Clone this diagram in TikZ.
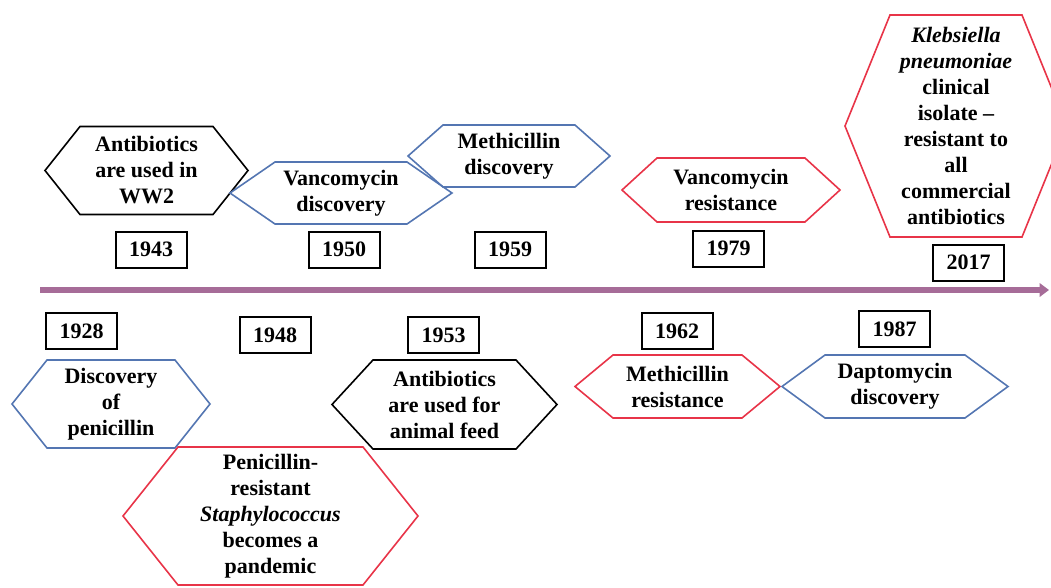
\documentclass[tikz,border=0pt]{standalone}
\usepackage{fontspec}
\setmainfont{Liberation Serif}
\usetikzlibrary{calc,arrows.meta}
\definecolor{hexblue}{RGB}{84,118,178}
\definecolor{hexred}{RGB}{232,52,72}
\definecolor{tlmauve}{RGB}{166,108,152}
\tikzset{
  hextext/.style={inner sep=0pt, align=center, font=\fontsize{16.5}{19.5}\selectfont\bfseries},
  hexline/.style={line width=1.2pt, line join=miter},
  yearbox/.style={draw=black, line width=1.5pt, minimum width=53.25pt, minimum height=27pt, inner sep=0pt, font=\fontsize{16.5}{19.5}\selectfont\bfseries},
  timeline/.style={draw=tlmauve, line width=4.8pt, -{Triangle[length=7pt,width=10pt]}}
}
\newcommand{\hexa}[8]{%
  \node[hextext] (#1) at (#2,#3) {#8};
  \draw[hexline,#7] ($(#1)+(-#4,0)$) -- ($(#1)+(-#4+#6,-#5)$) -- ($(#1)+(#4-#6,-#5)$) -- ($(#1)+(#4,0)$) -- ($(#1)+(#4-#6,#5)$) -- ($(#1)+(-#4+#6,#5)$) -- cycle;
}
\begin{document}
\begin{tikzpicture}[x=0.75pt,y=-0.75pt]
\useasboundingbox (0,0) rectangle (1051,587);
\begin{scope}
\clip (0,0) rectangle (1051,587);
% timeline
\coordinate (tlstart) at (40,290);
\coordinate (tlend) at (1049,290);
\draw[timeline] (tlstart) -- (tlend);
% upper events
\hexa{ww2}{146.5}{170.5}{101.5}{44}{35}{draw=black}{Antibiotics\\are used in\\WW2}
\hexa{vancod}{341}{193}{111}{31}{45}{draw=hexblue}{Vancomycin\\discovery}
\hexa{methd}{509}{156}{101}{31}{35}{draw=hexblue}{Methicillin\\discovery}
\hexa{vancor}{731}{190}{109}{32}{35}{draw=hexred}{Vancomycin\\resistance}
\hexa{kleb}{956}{126}{111}{111}{45}{draw=hexred}{\textit{Klebsiella}\\\textit{pneumoniae}\\clinical\\isolate --\\resistant to\\all\\commercial\\antibiotics}
% lower events
\hexa{penid}{111}{404}{99}{44}{35}{draw=hexblue}{Discovery\\of\\penicillin}
\hexa{feed}{444.5}{404.5}{112.5}{44.5}{41}{draw=black}{Antibiotics\\are used for\\animal feed}
\hexa{staph}{270.5}{516}{147.5}{69}{55}{draw=hexred}{Penicillin-\\resistant\\\textit{Staphylococcus}\\becomes a\\pandemic}
\hexa{methr}{677.5}{386.5}{102.5}{31.5}{38}{draw=hexred}{Methicillin\\resistance}
\hexa{dapto}{895}{386.5}{113}{31.5}{43}{draw=hexblue}{Daptomycin\\discovery}
% year boxes
\node[yearbox] (y1943) at (151,249.5) {1943};
\node[yearbox] (y1950) at (344,249.5) {1950};
\node[yearbox] (y1959) at (510,249.5) {1959};
\node[yearbox] (y1979) at (728.5,248.5) {1979};
\node[yearbox] (y2017) at (968.5,262.5) {2017};
\node[yearbox] (y1928) at (81.5,331) {1928};
\node[yearbox] (y1948) at (275,335) {1948};
\node[yearbox] (y1953) at (443.5,335) {1953};
\node[yearbox] (y1962) at (677,331) {1962};
\node[yearbox] (y1987) at (894.5,329) {1987};
\end{scope}
\end{tikzpicture}
\end{document}
